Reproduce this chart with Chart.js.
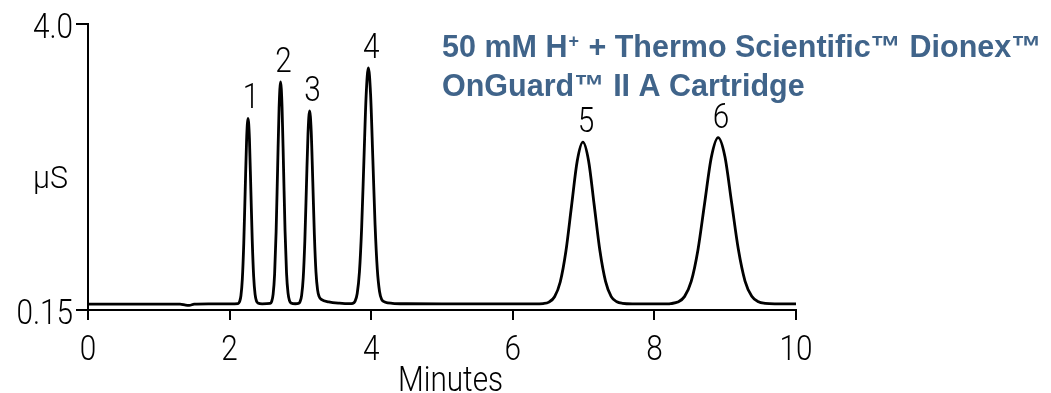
<!DOCTYPE html>
<html>
<head>
<meta charset="utf-8">
<style>
  html, body { margin: 0; padding: 0; background: #ffffff; }
  #wrap { width: 1051px; height: 393px; }
</style>
<script src="https://cdn.jsdelivr.net/npm/chart.js@4/dist/chart.umd.min.js"></script>
</head>
<body>
<div id="wrap"><canvas id="chrom" width="1051" height="393"></canvas></div>
<script>
// Chromatogram trace: retention time (min) and conductivity (µS)
const times = [
  0, 1.30, 1.38, 1.43, 1.50, 1.70, 2.00,
  2.12, 2.14, 2.16, 2.18, 2.20, 2.22, 2.24, 2.26, 2.28, 2.30, 2.32, 2.34, 2.36, 2.38, 2.40, 2.46,
  2.573, 2.594, 2.615, 2.636, 2.657, 2.678, 2.699, 2.72, 2.741, 2.762, 2.783, 2.804, 2.825, 2.846, 2.867, 2.93,
  2.9725, 2.995, 3.0175, 3.04, 3.0625, 3.085, 3.1075, 3.13, 3.1525, 3.175, 3.1975, 3.22, 3.2425, 3.265, 3.30, 3.40, 3.55, 3.70,
  3.7395, 3.771, 3.8025, 3.834, 3.8655, 3.897, 3.9285, 3.96, 3.9915, 4.023, 4.0545, 4.086, 4.1175, 4.149, 4.20, 4.30, 4.50, 5.00, 6.30,
  6.43, 6.51, 6.59, 6.67, 6.75, 6.83, 6.91, 6.99, 7.07, 7.15, 7.23, 7.31, 7.39, 7.47, 7.55, 7.70, 8.20,
  8.235, 8.33, 8.425, 8.52, 8.615, 8.71, 8.805, 8.90, 8.995, 9.09, 9.185, 9.28, 9.375, 9.47, 9.565, 9.70, 10.00
];
const conductivity = [
  0.230, 0.230, 0.215, 0.212, 0.228, 0.232, 0.232,
  0.237, 0.260, 0.342, 0.570, 1.044, 1.748, 2.438, 2.730, 2.460, 1.770, 1.080, 0.600, 0.360, 0.270, 0.245, 0.233,
  0.239, 0.265, 0.363, 0.637, 1.203, 2.045, 2.871, 3.220, 2.880, 2.060, 1.220, 0.650, 0.380, 0.275, 0.245, 0.234,
  0.238, 0.261, 0.346, 0.584, 1.076, 1.809, 2.527, 2.830, 2.560, 1.880, 1.160, 0.660, 0.420, 0.330, 0.290, 0.260, 0.242, 0.235,
  0.239, 0.267, 0.372, 0.662, 1.265, 2.161, 3.038, 3.410, 3.050, 2.190, 1.300, 0.700, 0.400, 0.290, 0.255, 0.240, 0.234, 0.232, 0.232,
  0.237, 0.256, 0.328, 0.527, 0.940, 1.554, 2.156, 2.410, 2.160, 1.560, 0.950, 0.535, 0.330, 0.260, 0.240, 0.233, 0.232,
  0.237, 0.257, 0.330, 0.535, 0.959, 1.591, 2.209, 2.470, 2.220, 1.600, 0.970, 0.540, 0.335, 0.260, 0.240, 0.233, 0.232
];

// Numbered peaks
const peakNames = ["1", "2", "3", "4", "5", "6"];
const peakTimes = [2.26, 2.72, 3.13, 3.96, 6.99, 8.90];
const peakHeights = [2.73, 3.22, 2.83, 3.41, 2.41, 2.47];

// Axis ticks
const yTickValues = [0.15, 4.0];
const yTickLabels = ["0.15", "4.0"];
const xTickValues = [0, 2, 4, 6, 8, 10];
const xTickLabels = ["0", "2", "4", "6", "8", "10"];

const yUnit = "µS";
const xTitle = "Minutes";
const titleLines = [
  [{ t: "50 mM H" }, { t: "+", sup: true }, { t: " + Thermo Scientific™ Dionex™" }],
  [{ t: "OnGuard™ II A Cartridge" }]
];

// Light condensed look for axis text: a light face squeezed horizontally
const axisFace = "Roboto, 'Liberation Sans', sans-serif";
const axisWeight = "300";
const squeeze = 0.85;
const titleFont = "'Liberation Sans', Arial, sans-serif";
const titleColor = "#40648a";

function condensedText(ctx, text, x, y, align, size, sx) {
  ctx.save();
  ctx.translate(x, y);
  ctx.scale(sx, 1);
  ctx.font = axisWeight + " " + size + "px " + axisFace;
  ctx.textAlign = align;
  ctx.textBaseline = "alphabetic";
  ctx.fillText(text, 0, 0);
  ctx.restore();
}

const annotations = {
  id: "annotations",
  afterDraw(chart) {
    const ctx = chart.ctx;
    const xs = chart.scales.x, ys = chart.scales.y;
    ctx.save();
    ctx.fillStyle = "#000";

    // tick labels
    xTickValues.forEach((v, i) => {
      condensedText(ctx, xTickLabels[i], xs.getPixelForValue(v), xs.top + 50, "center", 35, squeeze);
    });
    yTickValues.forEach((v, i) => {
      condensedText(ctx, yTickLabels[i], ys.right - 15, ys.getPixelForValue(v) + 14, "right", 35, squeeze);
    });

    // peak numbers
    peakNames.forEach((name, i) => {
      const px = xs.getPixelForValue(peakTimes[i]) + 3;
      const py = ys.getPixelForValue(peakHeights[i]) - 10;
      condensedText(ctx, name, px, py, "center", 35, squeeze);
    });

    // unit label beside the vertical axis
    condensedText(ctx, yUnit, 33, 188, "left", 32, 0.95);

    // x axis title
    condensedText(ctx, xTitle, 398, 391, "left", 35, squeeze);

    // two-line heading
    ctx.fillStyle = titleColor;
    ctx.textAlign = "left";
    ctx.textBaseline = "alphabetic";
    const baselines = [57, 96];
    titleLines.forEach((runs, li) => {
      let x = 442;
      runs.forEach(r => {
        if (r.sup) {
          ctx.font = "bold 18px " + titleFont;
          ctx.fillText(r.t, x + 1, baselines[li] - 10);
          x += ctx.measureText(r.t).width + 2;
        } else {
          ctx.font = "bold 30.5px " + titleFont;
          ctx.fillText(r.t, x, baselines[li]);
          x += ctx.measureText(r.t).width;
        }
      });
    });
    ctx.restore();
  }
};

new Chart(document.getElementById("chrom"), {
  type: "line",
  data: {
    datasets: [{
      data: times.map((t, i) => ({ x: t, y: conductivity[i] })),
      borderColor: "#000",
      borderWidth: 2.8,
      pointRadius: 0,
      fill: false,
      cubicInterpolationMode: "monotone"
    }]
  },
  options: {
    responsive: false,
    animation: false,
    events: [],
    layout: { padding: { left: 0, right: 255, top: 24, bottom: 0 } },
    plugins: { legend: { display: false }, tooltip: { enabled: false }, title: { display: false } },
    scales: {
      x: {
        type: "linear",
        min: 0, max: 10,
        afterFit(scale) { scale.height = 83; },
        afterBuildTicks(scale) { scale.ticks = xTickValues.map(v => ({ value: v })); },
        ticks: { display: false },
        grid: { drawOnChartArea: false, drawTicks: true, tickLength: 10, color: "#000", lineWidth: 2 },
        border: { display: true, color: "#000", width: 2 }
      },
      y: {
        type: "linear",
        min: 0.15, max: 4.0,
        afterFit(scale) { scale.width = 88; },
        afterBuildTicks(scale) { scale.ticks = yTickValues.map(v => ({ value: v })); },
        ticks: { display: false },
        grid: { drawOnChartArea: false, drawTicks: true, tickLength: 12, color: "#000", lineWidth: 2 },
        border: { display: true, color: "#000", width: 2 }
      }
    }
  },
  plugins: [annotations]
});
</script>
</body>
</html>
